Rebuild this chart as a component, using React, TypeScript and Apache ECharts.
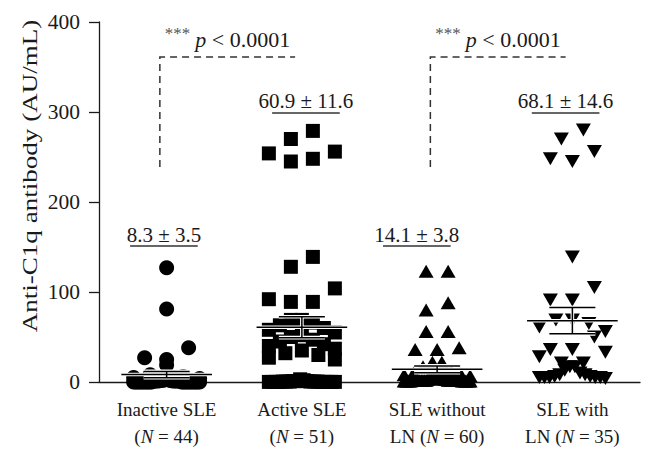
import React, { useEffect, useRef } from 'react';
import * as echarts from 'echarts';

// ---------------- data ----------------
const categories = ['Inactive SLE', 'Active SLE', 'SLE without', 'SLE with'];
const categorySecondPrefix = ['', '', 'LN ', 'LN '];
const groupN = [44, 51, 60, 35];
const yTicks = [0, 100, 200, 300, 400];

const inactiveSLE = [
  127, 81, 38, 27, 25, 19,
  8, 6, 5, 4, 3, 3, 2, 2, 2, 1.5, 1.5, 1, 1, 1, 1, 1, 1, 1,
  0.1, 0.1, 0.1, 0.1, 0.1, 0.1, 0.1, 0.1, 0.1, 0.1,
  0.1, 0.1, 0.1, 0.1, 0.1, 0.1, 0.1, 0.1, 0.1, 0.1,
];
const activeSLE = [
  279, 270, 256, 254, 248, 245, 139, 128, 104, 92, 89, 89, 69, 69,
  66, 63, 60, 58, 55, 52, 50, 47, 45, 42, 40, 37, 35, 32, 30, 27, 25,
  3, 2, 1, 1, 1, 0.5, 0.5, 0.5, 0.5, 0.5, 0.5,
  0.1, 0.1, 0.1, 0.1, 0.1, 0.1, 0.1, 0.1, 0.1,
];
const sleWithoutLN = [
  123, 123, 88, 80, 56, 56, 38, 36, 36, 22, 22, 17,
  12, 10, 9, 8, 7, 6, 6, 5, 5, 5,
  4, 4, 4, 3, 3, 3, 3, 3, 2, 2,
  2, 2, 2, 2, 2, 1, 1, 1, 1, 1,
  2, 2, 2, 2, 2, 2, 2, 2, 2, 2, 2, 2, 1, 1, 1, 1, 1, 1,
];
const sleWithLN = [
  280, 270, 256, 248, 245, 139,
  105, 91, 91, 69, 69, 65, 61, 56, 50,
  36, 36, 33, 28, 21, 21, 17, 17, 13,
  10, 8, 8, 6, 6, 5, 5, 5, 5, 5, 4,
];
const groupValues = [inactiveSLE, activeSLE, sleWithoutLN, sleWithLN];

const means = [8.3, 60.9, 14.1, 68.1];
const sems = [3.5, 11.6, 3.8, 14.6];
const summaryTexts = ['8.3 ± 3.5', '60.9 ± 11.6', '14.1 ± 3.8', '68.1 ± 14.6'];
const summaryLabelLevel = [151, 299, 151, 299];
const summaryLabelShift = [-0.02, 0.03, -0.15, -0.05];

const comparisons: [number, number][] = [[0, 1], [2, 3]];
const bracketLow = 239;
const bracketHigh = 361;
const pText = '< 0.0001';

const yAxisTitle = 'Anti-C1q antibody (AU/mL)';

// ---------------- styles ----------------
const FONT = 'Liberation Serif';
const INK = '#1a1a1a';
const symbols = [
  { symbol: 'circle', size: 15, rotate: 0 },
  { symbol: 'rect', size: 14, rotate: 0 },
  { symbol: 'triangle', size: [15, 13], rotate: 0 },
  { symbol: 'triangle', size: [15, 13], rotate: 180 },
];

const measureCtx = document.createElement('canvas').getContext('2d')!;
function textWidth(t: string, size: number, italic = false) {
  measureCtx.font = `${italic ? 'italic ' : ''}${size}px "${FONT}"`;
  return measureCtx.measureText(t).width;
}

// deterministic dot-plot layout: rows of similar values are spread side by side.
// Sparse rows: lowest value in the centre; crowded rows: highest value in the centre.
function swarm(values: number[], pxPerUnit: number, bandPx: number, maxHalfPx: number, stepPx: number, rowPx: number) {
  const sorted = [...values].sort((a, b) => b - a);
  const rows: number[][] = [];
  let cur: number[] = [];
  let start = 0;
  for (const v of sorted) {
    if (cur.length && (start - v) * pxPerUnit > rowPx) {
      rows.push(cur);
      cur = [];
    }
    if (!cur.length) start = v;
    cur.push(v);
  }
  if (cur.length) rows.push(cur);
  const out: [number, number][] = [];
  for (const row of rows) {
    const n = row.length;
    const crowded = (n - 1) * stepPx > 2 * maxHalfPx;
    const ordered = [...row].sort((a, b) => (crowded ? b - a : a - b));
    const step = n > 1 ? Math.min(stepPx, (2 * maxHalfPx) / (n - 1)) : 0;
    const mid = (n - 1) / 2;
    const idx = Array.from({ length: n }, (_, i) => i).sort(
      (a, b) => Math.abs(a - mid) - Math.abs(b - mid) || a - b
    );
    ordered.forEach((v, k) => {
      const off = (idx[k] - mid) * step;
      out.push([off / bandPx, v]);
    });
  }
  return out;
}

export default function App() {
  const ref = useRef<HTMLDivElement>(null);
  useEffect(() => {
    document.body.style.margin = '0';
    const chart = echarts.init(ref.current!, undefined, { renderer: 'svg' });

    const labelRich = {
      a: { fontSize: 19, fontFamily: FONT, color: INK, lineHeight: 27 },
      i: { fontSize: 19, fontFamily: FONT, color: INK, lineHeight: 27, fontStyle: 'italic' },
    };

    const base: any = {
      animation: false,
      backgroundColor: '#ffffff',
      grid: { left: 99, right: 12, top: 22, bottom: 79 },
      xAxis: [
        {
          type: 'category',
          data: categories,
          boundaryGap: true,
          axisLine: { lineStyle: { color: INK, width: 1.3 } },
          axisTick: { alignWithLabel: true, length: 6, lineStyle: { color: INK, width: 1.3 } },
          axisLabel: {
            margin: 14,
            interval: 0,
            formatter: (v: string, i: number) =>
              `{a|${v}}\n{a|${categorySecondPrefix[i]}(}{i|N}{a| = ${groupN[i]})}`,
            rich: labelRich,
          },
          splitLine: { show: false },
        },
        { type: 'value', min: 0, max: 4, show: false },
      ],
      yAxis: {
        type: 'value',
        min: yTicks[0],
        max: yTicks[yTicks.length - 1],
        interval: 100,
        axisLine: { show: true, lineStyle: { color: INK, width: 1.3 } },
        axisTick: { show: true, length: 10, lineStyle: { color: INK, width: 1.3 } },
        axisLabel: { fontSize: 21.5, fontFamily: FONT, color: INK, margin: 19 },
        splitLine: { show: false },
      },
      series: [],
    };
    chart.setOption(base);

    const y0 = chart.convertToPixel({ yAxisIndex: 0 }, 0) as number;
    const y100 = chart.convertToPixel({ yAxisIndex: 0 }, 100) as number;
    const pxPerUnit = (y0 - y100) / 100;
    const bandPx =
      (chart.convertToPixel({ xAxisIndex: 1 }, 1) as number) -
      (chart.convertToPixel({ xAxisIndex: 1 }, 0) as number);

    const scatterSeries = groupValues.map((vals, g) => {
      const pts = swarm(vals, pxPerUnit, bandPx, 33, 22, 14);
      return {
        type: 'scatter',
        xAxisIndex: 1,
        yAxisIndex: 0,
        symbol: symbols[g].symbol,
        symbolSize: symbols[g].size,
        symbolRotate: symbols[g].rotate,
        itemStyle: { color: '#000000', opacity: 1 },
        silent: true,
        z: 2,
        data: pts.map(([o, v]) => [g + 0.5 + o, v]),
      };
    });

    const summarySeries = {
      type: 'custom',
      xAxisIndex: 1,
      yAxisIndex: 0,
      z: 5,
      silent: true,
      clip: false,
      data: means.map((m, i) => [i + 0.5, m, sems[i], summaryLabelLevel[i], i]),
      renderItem: (params: any, api: any) => {
        const cx = api.value(0);
        const m = api.value(1);
        const s = api.value(2);
        const lvl = api.value(3);
        const gi = api.value(4);
        const band = api.size([1, 0])[0];
        const pM = api.coord([cx, m]);
        const pHi = api.coord([cx, m + s]);
        const pLo = api.coord([cx, m - s]);
        const halfMean = 0.335 * band;
        const halfCap = 0.17 * band;
        const lines = [
          [pM[0] - halfMean, pM[1], pM[0] + halfMean, pM[1]],
          [pM[0], pHi[1], pM[0], pLo[1]],
          [pM[0] - halfCap, pHi[1], pM[0] + halfCap, pHi[1]],
          [pM[0] - halfCap, pLo[1], pM[0] + halfCap, pLo[1]],
        ];
        const children: any[] = [];
        lines.forEach((l) =>
          children.push({
            type: 'line',
            shape: { x1: l[0], y1: l[1], x2: l[2], y2: l[3] },
            style: { stroke: '#ffffff', lineWidth: 3.6 },
          })
        );
        lines.forEach((l) =>
          children.push({
            type: 'line',
            shape: { x1: l[0], y1: l[1], x2: l[2], y2: l[3] },
            style: { stroke: '#000000', lineWidth: 1.5 },
          })
        );
        const pL = api.coord([cx + summaryLabelShift[gi], lvl]);
        const txt = summaryTexts[gi];
        const w = 0.5 * band;
        children.push({
          type: 'line',
          shape: { x1: pL[0] - w / 2, y1: pL[1], x2: pL[0] + w / 2, y2: pL[1] },
          style: { stroke: '#333333', lineWidth: 1.5 },
        });
        children.push({
          type: 'text',
          x: pL[0],
          y: pL[1] - 1,
          style: {
            text: txt,
            fontSize: 21,
            fontFamily: FONT,
            fill: INK,
            align: 'center',
            verticalAlign: 'bottom',
          },
        });
        return { type: 'group', children };
      },
    };

    const bracketSeries = {
      type: 'custom',
      xAxisIndex: 1,
      yAxisIndex: 0,
      z: 6,
      silent: true,
      clip: false,
      data: comparisons.map(([a, b]) => [a + 0.5, b + 0.5, bracketLow, bracketHigh]),
      renderItem: (params: any, api: any) => {
        const shift = -0.05;
        const a = api.value(0) + shift;
        const b = api.value(1) + shift;
        const pA = api.coord([a, api.value(3)]);
        const pALow = api.coord([a, api.value(2)]);
        const pB = api.coord([b, api.value(3)]);
        const starW = textWidth('***', 17);
        const pW = textWidth('p', 22, true);
        const restW = textWidth(' ' + pText, 22);
        const gap = 5;
        const total = starW + gap + pW + restW;
        const mid = (pA[0] + pB[0]) / 2;
        const left = mid - total / 2;
        const baseY = pA[1] - 18;
        return {
          type: 'group',
          children: [
            {
              type: 'polyline',
              shape: { points: [[pALow[0], pALow[1]], [pA[0], pA[1]], [pB[0], pB[1]]] },
              style: { stroke: '#333333', lineWidth: 1.5, lineDash: [7, 5], fill: null },
            },
            {
              type: 'text',
              x: left,
              y: baseY - 6,
              style: { text: '***', fontSize: 17, fontFamily: FONT, fill: '#555', align: 'left', verticalAlign: 'middle' },
            },
            {
              type: 'text',
              x: left + starW + gap,
              y: baseY,
              style: { text: 'p', fontSize: 22, fontStyle: 'italic', fontFamily: FONT, fill: INK, align: 'left', verticalAlign: 'middle' },
            },
            {
              type: 'text',
              x: left + starW + gap + pW,
              y: baseY,
              style: { text: ' ' + pText, fontSize: 22, fontFamily: FONT, fill: INK, align: 'left', verticalAlign: 'middle' },
            },
          ],
        };
      },
    };

    const titleSize = 22;
    const titleW = textWidth(yAxisTitle, titleSize);
    const targetLen = 313;

    chart.setOption({
      graphic: [
        {
          type: 'text',
          x: 29,
          y: 176,
          rotation: Math.PI / 2,
          scaleX: targetLen / titleW,
          style: {
            text: yAxisTitle,
            fontSize: titleSize,
            fontFamily: FONT,
            fill: INK,
            align: 'center',
            verticalAlign: 'middle',
            textAlign: 'center',
            textVerticalAlign: 'middle',
          },
        },
      ],
      series: [...scatterSeries, summarySeries, bracketSeries],
    });

    return () => chart.dispose();
  }, []);
  return <div ref={ref} style={{ width: 652, height: 461 }} />;
}
